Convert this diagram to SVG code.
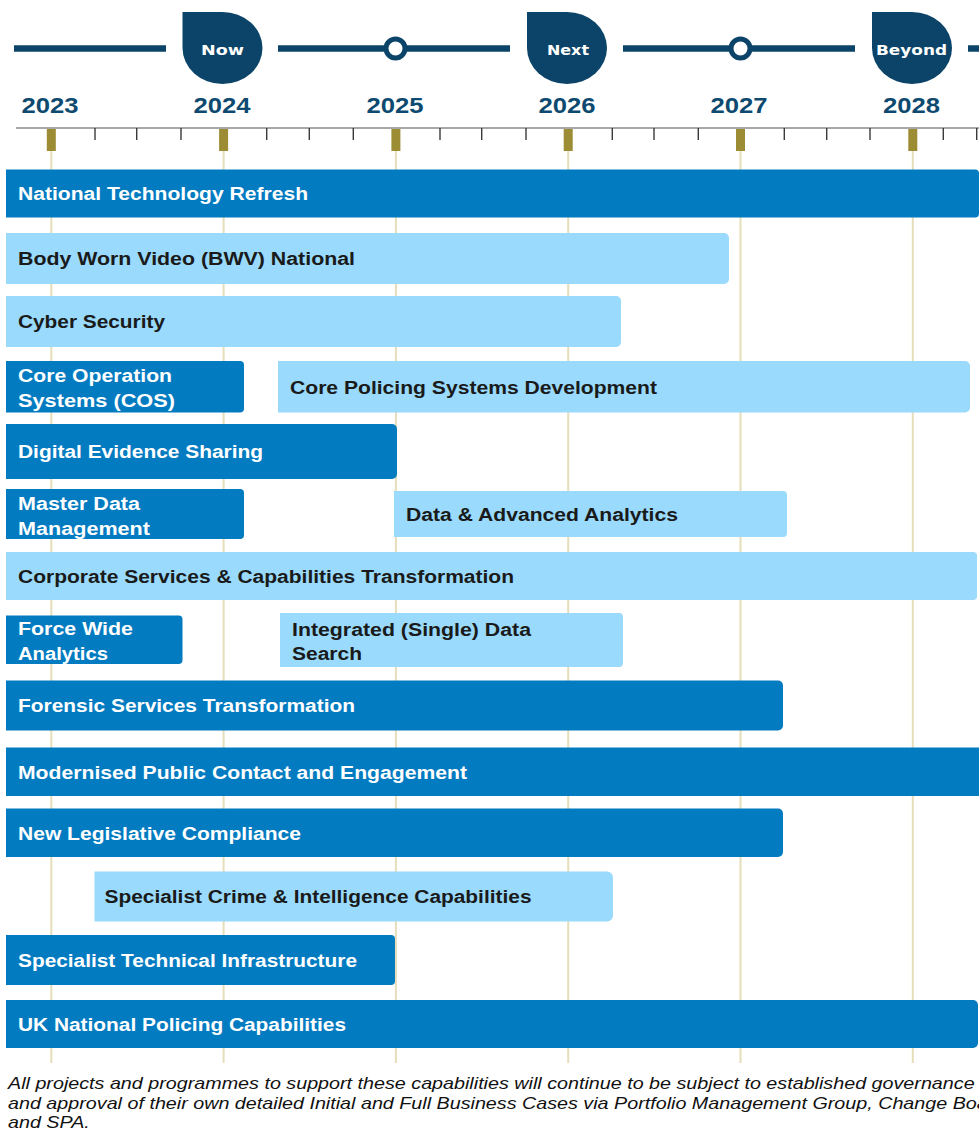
<svg xmlns="http://www.w3.org/2000/svg" width="979" height="1136" viewBox="0 0 979 1136">
<style>
.bg{fill:#ffffff}
.grid{stroke:#E6DEBA;stroke-width:2}
.axis{stroke:#8A8A8A;stroke-width:1.5}
.minor{stroke:#3A3A3A;stroke-width:1.4}
.gold{fill:#9C8C34}
.tl{stroke:#0B4468;stroke-width:6.5;fill:none}
.ms{fill:#ffffff;stroke:#0B4468;stroke-width:5}
.drop{fill:#0B4468}
.droptxt{font-family:"DejaVu Sans",sans-serif;font-weight:bold;font-size:14px;fill:#ffffff;text-anchor:middle}
.year{font-family:"Liberation Sans",Arial,sans-serif;font-weight:bold;font-size:22px;fill:#0E4A70;text-anchor:middle}
.dark{fill:#037BC1}
.light{fill:#99DAFD}
.t{font-family:"Liberation Sans",Arial,sans-serif;font-weight:bold;font-size:18px}
.tw{fill:#ffffff}
.tb{fill:#1A1A1A}
.foot{font-family:"Liberation Sans",Arial,sans-serif;font-style:italic;font-size:17px;fill:#111111}
</style>
<rect class="bg" x="0" y="0" width="979" height="1136"/>

<g id="grid">
<line class="grid" x1="51.3" y1="151" x2="51.3" y2="1063"/>
<line class="grid" x1="223.6" y1="151" x2="223.6" y2="1063"/>
<line class="grid" x1="395.9" y1="151" x2="395.9" y2="1063"/>
<line class="grid" x1="568.2" y1="151" x2="568.2" y2="1063"/>
<line class="grid" x1="740.5" y1="151" x2="740.5" y2="1063"/>
<line class="grid" x1="912.8" y1="151" x2="912.8" y2="1063"/>
</g>

<g id="axis">
<line class="axis" x1="16" y1="128" x2="979" y2="128"/>
<g class="minor">
<line x1="95" y1="128" x2="95" y2="140"/>
<line x1="136.7" y1="128" x2="136.7" y2="140"/>
<line x1="181" y1="128" x2="181" y2="140"/>
<line x1="266.7" y1="128" x2="266.7" y2="140"/>
<line x1="309.3" y1="128" x2="309.3" y2="140"/>
<line x1="353.3" y1="128" x2="353.3" y2="140"/>
<line x1="440" y1="128" x2="440" y2="140"/>
<line x1="481.7" y1="128" x2="481.7" y2="140"/>
<line x1="526" y1="128" x2="526" y2="140"/>
<line x1="612.3" y1="128" x2="612.3" y2="140"/>
<line x1="654" y1="128" x2="654" y2="140"/>
<line x1="698.3" y1="128" x2="698.3" y2="140"/>
<line x1="784.3" y1="128" x2="784.3" y2="140"/>
<line x1="826.7" y1="128" x2="826.7" y2="140"/>
<line x1="870" y1="128" x2="870" y2="140"/>
<line x1="943.3" y1="128" x2="943.3" y2="140"/>
<line x1="976.7" y1="128" x2="976.7" y2="140"/>
</g>
<rect class="gold" x="46.8" y="129" width="9" height="22"/>
<rect class="gold" x="219.1" y="129" width="9" height="22"/>
<rect class="gold" x="391.4" y="129" width="9" height="22"/>
<rect class="gold" x="563.7" y="129" width="9" height="22"/>
<rect class="gold" x="736" y="129" width="9" height="22"/>
<rect class="gold" x="908.3" y="129" width="9" height="22"/>
<text class="year" x="50" y="113" textLength="57" lengthAdjust="spacingAndGlyphs">2023</text>
<text class="year" x="222" y="113" textLength="57" lengthAdjust="spacingAndGlyphs">2024</text>
<text class="year" x="395" y="113" textLength="57" lengthAdjust="spacingAndGlyphs">2025</text>
<text class="year" x="567" y="113" textLength="57" lengthAdjust="spacingAndGlyphs">2026</text>
<text class="year" x="739" y="113" textLength="57" lengthAdjust="spacingAndGlyphs">2027</text>
<text class="year" x="911.5" y="113" textLength="57" lengthAdjust="spacingAndGlyphs">2028</text>
</g>

<g id="connectors">
<line class="tl" x1="14" y1="48.5" x2="166" y2="48.5"/>
<line class="tl" x1="278" y1="48.5" x2="510" y2="48.5"/>
<line class="tl" x1="623" y1="48.5" x2="855" y2="48.5"/>
<line class="tl" x1="968" y1="48.5" x2="979" y2="48.5"/>
</g>

<g id="milestone-2025"><circle class="ms" cx="395.5" cy="48.5" r="9.5"/></g>
<g id="milestone-2027"><circle class="ms" cx="740.5" cy="48.5" r="9.5"/></g>

<g id="marker-now">
<path class="drop" d="M182.5,12 H222.5 A40,36 0 0 1 262.5,48 A40,36 0 0 1 222.5,84 A40,36 0 0 1 182.5,48 Z"/>
<text class="droptxt" x="222.5" y="55" textLength="43" lengthAdjust="spacingAndGlyphs">Now</text>
</g>
<g id="marker-next">
<path class="drop" d="M527,12 H567 A40,36 0 0 1 607,48 A40,36 0 0 1 567,84 A40,36 0 0 1 527,48 Z"/>
<text class="droptxt" x="568" y="55" textLength="42" lengthAdjust="spacingAndGlyphs">Next</text>
</g>
<g id="marker-beyond">
<path class="drop" d="M872,12 H912 A40,36 0 0 1 952,48 A40,36 0 0 1 912,84 A40,36 0 0 1 872,48 Z"/>
<text class="droptxt" x="911.5" y="55" textLength="71" lengthAdjust="spacingAndGlyphs">Beyond</text>
</g>

<g id="bar-ntr">
<path class="dark" d="M6,169.5 H975 A4,4 0 0 1 979,173.5 V213.5 A4,4 0 0 1 975,217.5 H6 Z"/>
<text class="t tw" x="18" y="199.5" textLength="290" lengthAdjust="spacingAndGlyphs">National Technology Refresh</text>
</g>
<g id="bar-bwv">
<path class="light" d="M6,233 H724 A5,5 0 0 1 729,238 V279 A5,5 0 0 1 724,284 H6 Z"/>
<text class="t tb" x="18" y="265" textLength="337" lengthAdjust="spacingAndGlyphs">Body Worn Video (BWV) National</text>
</g>
<g id="bar-cyber">
<path class="light" d="M6,296 H616 A5,5 0 0 1 621,301 V342 A5,5 0 0 1 616,347 H6 Z"/>
<text class="t tb" x="18" y="328" textLength="147" lengthAdjust="spacingAndGlyphs">Cyber Security</text>
</g>
<g id="bar-cos">
<path class="dark" d="M6,361 H240 A4,4 0 0 1 244,365 V408.5 A4,4 0 0 1 240,412.5 H6 Z"/>
<text class="t tw" x="18" y="382" textLength="154" lengthAdjust="spacingAndGlyphs">Core Operation</text>
<text class="t tw" x="18" y="407" textLength="157" lengthAdjust="spacingAndGlyphs">Systems (COS)</text>
</g>
<g id="bar-cpsd">
<path class="light" d="M278,361 H965 A5,5 0 0 1 970,366 V407.5 A5,5 0 0 1 965,412.5 H278 Z"/>
<text class="t tb" x="290" y="394" textLength="367" lengthAdjust="spacingAndGlyphs">Core Policing Systems Development</text>
</g>
<g id="bar-des">
<path class="dark" d="M6,424 H392 A5,5 0 0 1 397,429 V474 A5,5 0 0 1 392,479 H6 Z"/>
<text class="t tw" x="18" y="458" textLength="245" lengthAdjust="spacingAndGlyphs">Digital Evidence Sharing</text>
</g>
<g id="bar-mdm">
<path class="dark" d="M6,489 H240 A4,4 0 0 1 244,493 V535 A4,4 0 0 1 240,539 H6 Z"/>
<text class="t tw" x="18" y="510" textLength="122" lengthAdjust="spacingAndGlyphs">Master Data</text>
<text class="t tw" x="18" y="535" textLength="132" lengthAdjust="spacingAndGlyphs">Management</text>
</g>
<g id="bar-daa">
<path class="light" d="M394,491 H783 A4,4 0 0 1 787,495 V533 A4,4 0 0 1 783,537 H394 Z"/>
<text class="t tb" x="406" y="520.5" textLength="272" lengthAdjust="spacingAndGlyphs">Data &amp; Advanced Analytics</text>
</g>
<g id="bar-corp">
<path class="light" d="M6,552 H973 A4,4 0 0 1 977,556 V596 A4,4 0 0 1 973,600 H6 Z"/>
<text class="t tb" x="18" y="582.5" textLength="496" lengthAdjust="spacingAndGlyphs">Corporate Services &amp; Capabilities Transformation</text>
</g>
<g id="bar-fwa">
<path class="dark" d="M6,615.5 H178.5 A4,4 0 0 1 182.5,619.5 V660 A4,4 0 0 1 178.5,664 H6 Z"/>
<text class="t tw" x="18" y="635" textLength="115" lengthAdjust="spacingAndGlyphs">Force Wide</text>
<text class="t tw" x="18" y="660" textLength="90" lengthAdjust="spacingAndGlyphs">Analytics</text>
</g>
<g id="bar-isds">
<path class="light" d="M280,613 H619 A4,4 0 0 1 623,617 V663 A4,4 0 0 1 619,667 H280 Z"/>
<text class="t tb" x="292" y="636" textLength="239" lengthAdjust="spacingAndGlyphs">Integrated (Single) Data</text>
<text class="t tb" x="292" y="660" textLength="70" lengthAdjust="spacingAndGlyphs">Search</text>
</g>
<g id="bar-forensic">
<path class="dark" d="M6,680.5 H778 A5,5 0 0 1 783,685.5 V725.5 A5,5 0 0 1 778,730.5 H6 Z"/>
<text class="t tw" x="18" y="712" textLength="337" lengthAdjust="spacingAndGlyphs">Forensic Services Transformation</text>
</g>
<g id="bar-mpce">
<path class="dark" d="M6,747.5 H978 A4,4 0 0 1 982,751.5 V792 A4,4 0 0 1 978,796 H6 Z"/>
<text class="t tw" x="18" y="778.5" textLength="449" lengthAdjust="spacingAndGlyphs">Modernised Public Contact and Engagement</text>
</g>
<g id="bar-nlc">
<path class="dark" d="M6,808.5 H778 A5,5 0 0 1 783,813.5 V852 A5,5 0 0 1 778,857 H6 Z"/>
<text class="t tw" x="18" y="839.5" textLength="283" lengthAdjust="spacingAndGlyphs">New Legislative Compliance</text>
</g>
<g id="bar-scic">
<path class="light" d="M94.5,871.5 H607 A6,6 0 0 1 613,877.5 V915.5 A6,6 0 0 1 607,921.5 H94.5 Z"/>
<text class="t tb" x="104.5" y="903" textLength="427" lengthAdjust="spacingAndGlyphs">Specialist Crime &amp; Intelligence Capabilities</text>
</g>
<g id="bar-sti">
<path class="dark" d="M6,935 H391 A4,4 0 0 1 395,939 V981 A4,4 0 0 1 391,985 H6 Z"/>
<text class="t tw" x="18" y="966.5" textLength="339" lengthAdjust="spacingAndGlyphs">Specialist Technical Infrastructure</text>
</g>
<g id="bar-uk">
<path class="dark" d="M6,1000 H973 A5,5 0 0 1 978,1005 V1043 A5,5 0 0 1 973,1048 H6 Z"/>
<text class="t tw" x="18" y="1030.5" textLength="328" lengthAdjust="spacingAndGlyphs">UK National Policing Capabilities</text>
</g>

<g id="footnote">
<text class="foot" transform="translate(8,1089) scale(1.16,1)">All projects and programmes to support these capabilities will continue to be subject to established governance</text>
<text class="foot" transform="translate(8,1109) scale(1.16,1)">and approval of their own detailed Initial and Full Business Cases via Portfolio Management Group, Change Board</text>
<text class="foot" transform="translate(8,1128) scale(1.16,1)">and SPA.</text>
</g>
</svg>
